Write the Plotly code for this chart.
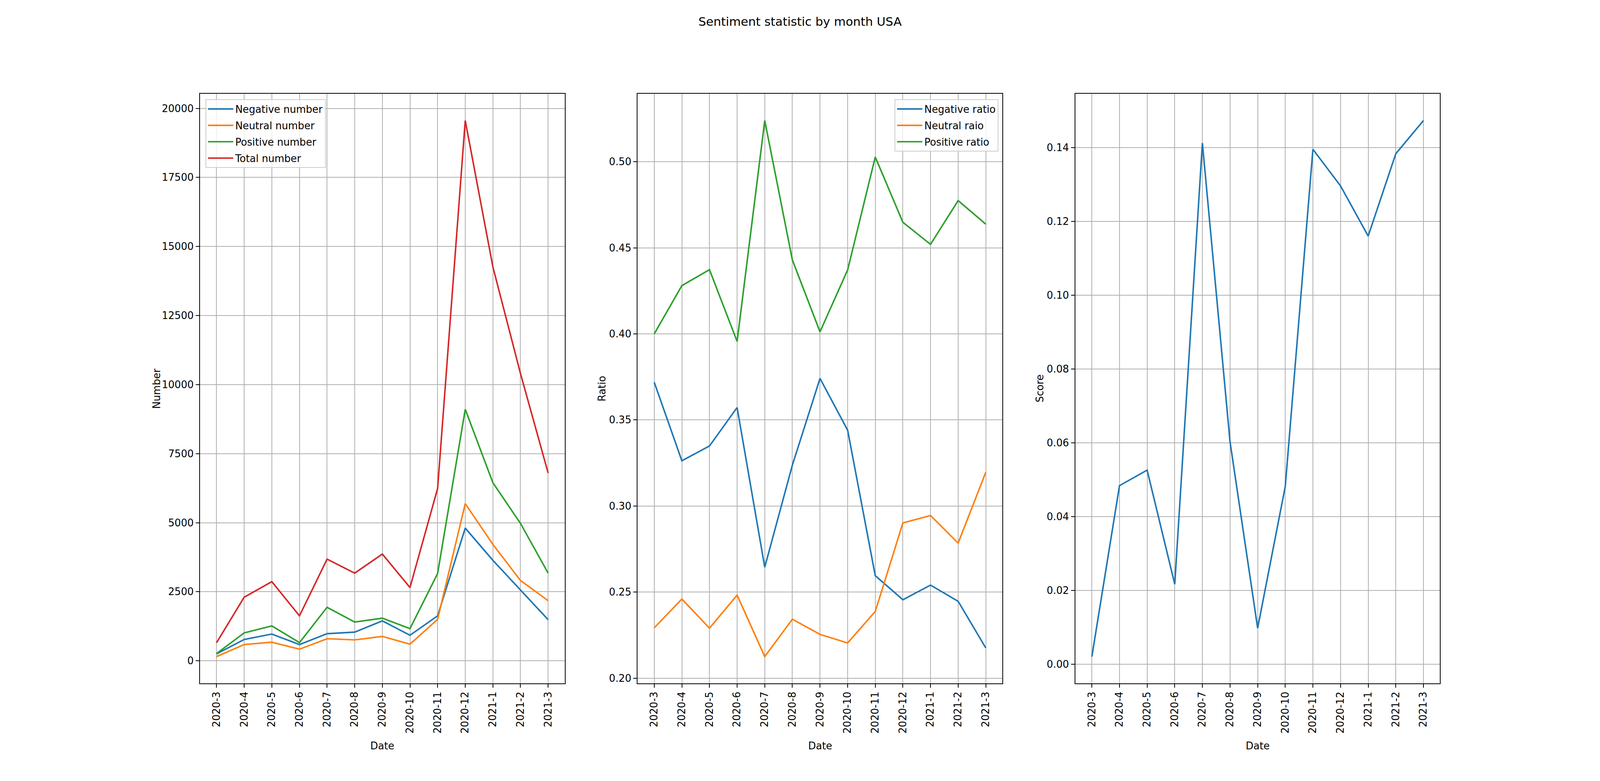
import plotly.graph_objects as go

months = ["2020-3", "2020-4", "2020-5", "2020-6", "2020-7", "2020-8", "2020-9",
          "2020-10", "2020-11", "2020-12", "2021-1", "2021-2", "2021-3"]

negative_number = [253, 773, 970, 590, 984, 1040, 1447, 927, 1630, 4806, 3640, 2558, 1490]
neutral_number = [155, 590, 675, 422, 801, 759, 885, 604, 1504, 5691, 4216, 2909, 2178]
positive_number = [267, 1012, 1265, 660, 1939, 1405, 1546, 1166, 3162, 9106, 6450, 4975, 3176]
total_number = [660, 2305, 2867, 1630, 3682, 3176, 3865, 2656, 6240, 19562, 14264, 10400, 6802]

negative_ratio = [0.3719, 0.3263, 0.3349, 0.3572, 0.2645, 0.3238, 0.3741, 0.3441,
                  0.2596, 0.2456, 0.2541, 0.2447, 0.2176]
neutral_ratio = [0.2293, 0.2460, 0.2291, 0.2483, 0.2126, 0.2343, 0.2255, 0.2205,
                 0.2388, 0.2902, 0.2945, 0.2785, 0.3196]
positive_ratio = [0.4000, 0.4280, 0.4373, 0.3956, 0.5239, 0.4429, 0.4012, 0.4371,
                  0.5027, 0.4648, 0.4520, 0.4774, 0.4637]

score = [0.0021, 0.0484, 0.0526, 0.0217, 0.1412, 0.0603, 0.0098, 0.0482,
         0.1395, 0.1296, 0.1160, 0.1383, 0.1473]

C_BLUE, C_ORANGE, C_GREEN, C_RED = "#1f77b4", "#ff7f0e", "#2ca02c", "#d62728"

W, H = 4800, 2000
FONT = "DejaVu Sans"
FS = 27.8
LW = 4.2
GRID = 2.2

def pad_range(*series):
    vals = [v for s in series for v in s]
    lo, hi = min(vals), max(vals)
    m = (hi - lo) * 0.05
    return [lo - m, hi + m]

fig = go.Figure()

# panel 1
for name, ys, col in [("Negative number", negative_number, C_BLUE),
                      ("Neutral number", neutral_number, C_ORANGE),
                      ("Positive number", positive_number, C_GREEN),
                      ("Total number", total_number, C_RED)]:
    fig.add_trace(go.Scatter(x=months, y=ys, mode="lines", name=name, legendgroup=name,
                             line=dict(color=col, width=LW),
                             xaxis="x", yaxis="y", legend="legend"))
# panel 2
for name, ys, col in [("Negative ratio", negative_ratio, C_BLUE),
                      ("Neutral raio", neutral_ratio, C_ORANGE),
                      ("Positive ratio", positive_ratio, C_GREEN)]:
    fig.add_trace(go.Scatter(x=months, y=ys, mode="lines", name=name, legendgroup=name,
                             line=dict(color=col, width=LW),
                             xaxis="x2", yaxis="y2", legend="legend2"))
# panel 3
fig.add_trace(go.Scatter(x=months, y=score, mode="lines", name="Score",
                         line=dict(color=C_BLUE, width=LW),
                         xaxis="x3", yaxis="y3", showlegend=False))

w = 0.775 / 3.4
gap = 0.2 * w
doms = [[0.125 + i * (w + gap), 0.125 + i * (w + gap) + w] for i in range(3)]
ydom = [0.125, 0.88]

common_axis = dict(showline=True, mirror=True, linecolor="black", linewidth=GRID,
                   showgrid=True, gridcolor="#b0b0b0", gridwidth=GRID,
                   ticks="outside", ticklen=9.7, tickwidth=GRID, tickcolor="black",
                   zeroline=False, tickfont=dict(family=FONT, size=FS, color="black"))

xr = [-0.6, len(months) - 1 + 0.6]
layout = dict(template="none", width=W, height=H, margin=dict(l=0, r=0, t=0, b=0, pad=0),
              paper_bgcolor="white", plot_bgcolor="white",
              font=dict(family=FONT, size=FS, color="black"))
for i in range(3):
    sfx = "" if i == 0 else str(i + 1)
    layout["xaxis" + sfx] = dict(common_axis, domain=doms[i], type="category",
                                 range=xr, tickangle=-90,
                                 anchor="y" + sfx)
layout["yaxis"] = dict(common_axis, domain=ydom, anchor="x",
                       range=pad_range(negative_number, neutral_number, positive_number, total_number),
                       tick0=0, dtick=2500, tickformat="d")
layout["yaxis2"] = dict(common_axis, domain=ydom, anchor="x2",
                        range=pad_range(negative_ratio, neutral_ratio, positive_ratio),
                        tick0=0, dtick=0.05, tickformat=".2f")
layout["yaxis3"] = dict(common_axis, domain=ydom, anchor="x3",
                        range=pad_range(score), tick0=0, dtick=0.02, tickformat=".2f")

leg_common = dict(bgcolor="rgba(255,255,255,0.8)", bordercolor="#cccccc", borderwidth=2,
                  font=dict(family=FONT, size=FS, color="black"), itemwidth=70,
                  tracegroupgap=6)
layout["legend"] = dict(leg_common, x=616 / W, y=1 - 254 / H, xanchor="left", yanchor="top",
                        xref="paper", yref="paper")
layout["legend2"] = dict(leg_common, x=2995 / W, y=1 - 254 / H, xanchor="right", yanchor="top",
                         xref="paper", yref="paper")

fig.update_layout(**layout)

ann = [
    dict(text="Sentiment statistic by month USA", x=0.5, y=1 - 55 / H, xanchor="center",
         yanchor="middle", font=dict(family=FONT, size=33.3, color="black")),
    dict(text="Number", x=470 / W, y=(ydom[0] + ydom[1]) / 2, textangle=-90),
    dict(text="Ratio", x=1806 / W, y=(ydom[0] + ydom[1]) / 2, textangle=-90),
    dict(text="Score", x=3119 / W, y=(ydom[0] + ydom[1]) / 2, textangle=-90),
]
for d in doms:
    ann.append(dict(text="Date", x=(d[0] + d[1]) / 2, y=1 - 1910 / H))
for a in ann:
    a.setdefault("font", dict(family=FONT, size=FS, color="black"))
    a.update(xref="paper", yref="paper", showarrow=False)
    a.setdefault("xanchor", "center")
    a.setdefault("yanchor", "middle")
fig.update_layout(annotations=ann)

# Re-lay the figure out to fill whatever CSS viewport the browser really has,
# scaling text and stroke sizes to match (layout itself is in paper fractions).
fit_js = """
var FIG = %s;
var gd = document.getElementById('{plot_id}');
var de = document.documentElement, bd = document.body;
de.style.margin = '0'; de.style.padding = '0'; de.style.overflow = 'hidden';
bd.style.margin = '0'; bd.style.padding = '0'; bd.style.overflow = 'hidden';
var VW = window.innerWidth || de.clientWidth, VH = window.innerHeight || de.clientHeight;
if (VW > 0 && VH > 0 && (Math.abs(VW - %d) > 1 || Math.abs(VH - %d) > 1)) {
  var f = Math.sqrt((VW / %d) * (VH / %d));
  var KEYS = {size: 1, ticklen: 1, tickwidth: 1, linewidth: 1, gridwidth: 1,
              borderwidth: 1, itemwidth: 1, tracegroupgap: 1};
  var sc = function (o, pk) {
    if (Array.isArray(o)) { for (var i = 0; i < o.length; i++) { sc(o[i], pk); } return; }
    if (!o || typeof o !== 'object') { return; }
    for (var k in o) {
      var v = o[k];
      if (typeof v === 'number') {
        if (KEYS[k] || (k === 'width' && pk === 'line')) { o[k] = v * f; }
      } else if (v && typeof v === 'object') { sc(v, k); }
    }
  };
  sc(FIG.data, 'data');
  sc(FIG.layout, 'layout');
  if (FIG.layout.legend && FIG.layout.legend.itemwidth < 30) { FIG.layout.legend.itemwidth = 30; }
  if (FIG.layout.legend2 && FIG.layout.legend2.itemwidth < 30) { FIG.layout.legend2.itemwidth = 30; }
  FIG.layout.width = VW; FIG.layout.height = VH;
  gd.style.width = VW + 'px'; gd.style.height = VH + 'px';
  Plotly.react(gd, FIG.data, FIG.layout, {displayModeBar: false, responsive: false});
}
""" % (fig.to_json(), W, H, W, H)

fig.write_html("out.html", post_script=fit_js, config={"displayModeBar": False})
